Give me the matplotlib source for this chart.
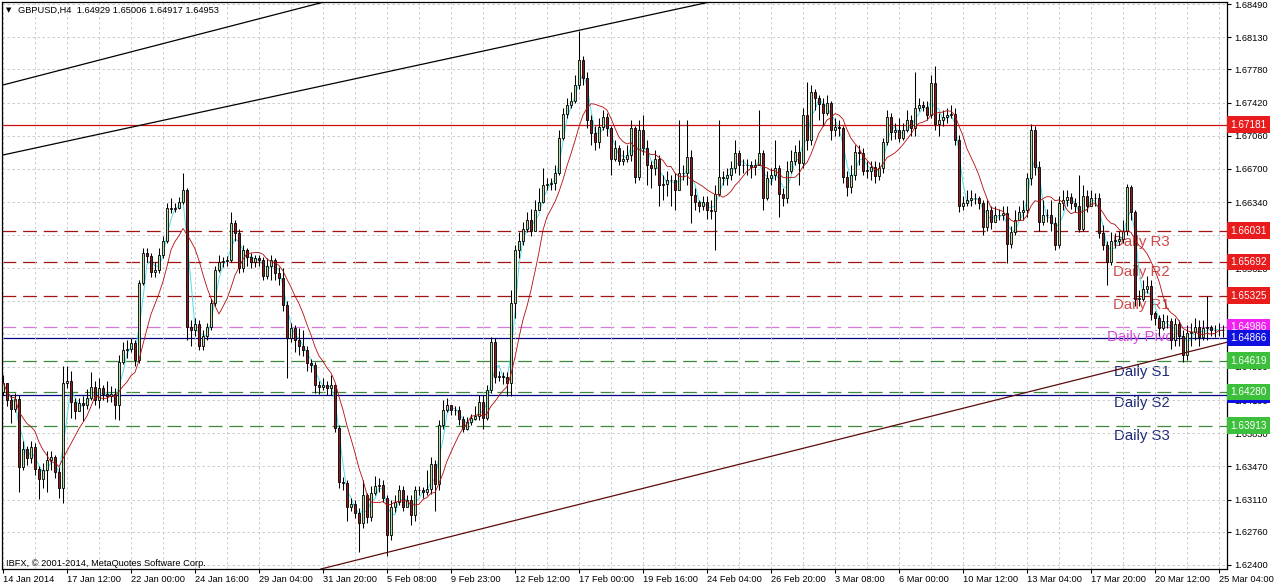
import numpy as np
import pandas as pd
import matplotlib
matplotlib.use("Agg")
import matplotlib.pyplot as plt

# GBPUSD H4 candles (one bar every 4 hours)
first_open = 1.6428
closes = [
    1.6438, 1.6419, 1.6409, 1.6420, 1.6346, 1.6366, 1.6356, 1.6368, 1.6344, 1.6333,
    1.6343, 1.6354, 1.6357, 1.6341, 1.6323, 1.6438, 1.6440, 1.6417, 1.6407, 1.6416,
    1.6414, 1.6421, 1.6433, 1.6419, 1.6432, 1.6426, 1.6423, 1.6426, 1.6414, 1.6460,
    1.6473, 1.6475, 1.6481, 1.6463, 1.6546, 1.6579, 1.6575, 1.6558, 1.6560, 1.6576,
    1.6592, 1.6627, 1.6626, 1.6628, 1.6634, 1.6647, 1.6498, 1.6495, 1.6502, 1.6478,
    1.6489, 1.6498, 1.6524, 1.6560, 1.6569, 1.6570, 1.6571, 1.6611, 1.6600, 1.6562,
    1.6582, 1.6574, 1.6569, 1.6573, 1.6571, 1.6554, 1.6565, 1.6571, 1.6557, 1.6552,
    1.6522, 1.6486, 1.6497, 1.6484, 1.6478, 1.6473, 1.6459, 1.6457, 1.6435, 1.6433,
    1.6435, 1.6432, 1.6435, 1.6389, 1.6330, 1.6329, 1.6303, 1.6306, 1.6296, 1.6285,
    1.6316, 1.6292, 1.6318, 1.6326, 1.6327, 1.6313, 1.6272, 1.6303, 1.6308, 1.6321,
    1.6303, 1.6310, 1.6294, 1.6321, 1.6321, 1.6319, 1.6322, 1.6350, 1.6328, 1.6392,
    1.6408, 1.6414, 1.6408, 1.6408, 1.6399, 1.6388, 1.6395, 1.6399, 1.6402, 1.6417,
    1.6400, 1.6430, 1.6482, 1.6444, 1.6445, 1.6444, 1.6438, 1.6524, 1.6582, 1.6592,
    1.6605, 1.6614, 1.6603, 1.6625, 1.6634, 1.6653, 1.6654, 1.6655, 1.6666, 1.6704,
    1.6730, 1.6739, 1.6744, 1.6761, 1.6788, 1.6769, 1.6723, 1.6709, 1.6699, 1.6715,
    1.6726, 1.6714, 1.6681, 1.6693, 1.6679, 1.6681, 1.6685, 1.6714, 1.6661, 1.6712,
    1.6693, 1.6674, 1.6671, 1.6681, 1.6652, 1.6654, 1.6658, 1.6658, 1.6647, 1.6665,
    1.6665, 1.6683, 1.6642, 1.6634, 1.6630, 1.6634, 1.6625, 1.6624, 1.6643, 1.6661,
    1.6660, 1.6663, 1.6671, 1.6687, 1.6674, 1.6674, 1.6674, 1.6672, 1.6674, 1.6687,
    1.6638, 1.6660, 1.6663, 1.6671, 1.6643, 1.6638, 1.6668, 1.6679, 1.6688, 1.6676,
    1.6728, 1.6701, 1.6753, 1.6747, 1.6741, 1.6731, 1.6742, 1.6712, 1.6715, 1.6714,
    1.6661, 1.6650, 1.6663, 1.6688, 1.6687, 1.6668, 1.6668, 1.6672, 1.6662, 1.6671,
    1.6699, 1.6726, 1.6710, 1.6712, 1.6704, 1.6712, 1.6723, 1.6714, 1.6736, 1.6739,
    1.6737, 1.6728, 1.6763, 1.6719, 1.6723, 1.6726, 1.6728, 1.6730, 1.6701, 1.6630,
    1.6633, 1.6636, 1.6638, 1.6638, 1.6633, 1.6607, 1.6625, 1.6612, 1.6620, 1.6620,
    1.6622, 1.6589, 1.6601, 1.6615, 1.6623, 1.6625, 1.6660, 1.6712, 1.6672, 1.6612,
    1.6620, 1.6620, 1.6611, 1.6587, 1.6633, 1.6636, 1.6639, 1.6633, 1.6630, 1.6605,
    1.6641, 1.6630, 1.6638, 1.6638, 1.6600, 1.6587, 1.6569, 1.6592, 1.6592, 1.6594,
    1.6603, 1.6650, 1.6623, 1.6529, 1.6529, 1.6540, 1.6543, 1.6513, 1.6508, 1.6497,
    1.6505, 1.6505, 1.6484, 1.6502, 1.6489, 1.6468, 1.6492, 1.6493, 1.6498, 1.6487,
    1.6497, 1.6498, 1.6495, 1.6495, 1.6495, 1.6495,
]
highs = [
    1.6446, 1.6435, 1.6424, 1.6427, 1.6424, 1.6375, 1.6369, 1.6375, 1.6372, 1.6347,
    1.6351, 1.6364, 1.6364, 1.6359, 1.6346, 1.6456, 1.6456, 1.6451, 1.6421, 1.6421,
    1.6423, 1.6431, 1.6449, 1.6440, 1.6443, 1.6435, 1.6440, 1.6434, 1.6432, 1.6468,
    1.6482, 1.6484, 1.6486, 1.6484, 1.6549, 1.6584, 1.6584, 1.6579, 1.6569, 1.6584,
    1.6597, 1.6633, 1.6638, 1.6633, 1.6640, 1.6665, 1.6649, 1.6506, 1.6508, 1.6506,
    1.6495, 1.6503, 1.6529, 1.6565, 1.6576, 1.6574, 1.6575, 1.6623, 1.6614, 1.6605,
    1.6587, 1.6584, 1.6579, 1.6577, 1.6577, 1.6574, 1.6573, 1.6576, 1.6573, 1.6564,
    1.6562, 1.6527, 1.6503, 1.6500, 1.6497, 1.6495, 1.6478, 1.6464, 1.6460, 1.6440,
    1.6443, 1.6440, 1.6446, 1.6437, 1.6392, 1.6336, 1.6332, 1.6313, 1.6310, 1.6302,
    1.6332, 1.6318, 1.6326, 1.6337, 1.6334, 1.6332, 1.6316, 1.6310, 1.6316, 1.6327,
    1.6326, 1.6316, 1.6316, 1.6326, 1.6326, 1.6325, 1.6343, 1.6357, 1.6354, 1.6397,
    1.6419, 1.6421, 1.6414, 1.6413, 1.6413, 1.6402, 1.6401, 1.6404, 1.6413, 1.6424,
    1.6424, 1.6435, 1.6488, 1.6486, 1.6451, 1.6449, 1.6449, 1.6538, 1.6587, 1.6601,
    1.6612, 1.6623, 1.6627, 1.6636, 1.6649, 1.6671, 1.6660, 1.6660, 1.6674, 1.6712,
    1.6736, 1.6747, 1.6753, 1.6772, 1.6820, 1.6793, 1.6775, 1.6728, 1.6717, 1.6725,
    1.6734, 1.6731, 1.6717, 1.6701, 1.6696, 1.6690, 1.6696, 1.6723, 1.6717, 1.6723,
    1.6728, 1.6701, 1.6679, 1.6690, 1.6685, 1.6663, 1.6668, 1.6663, 1.6665, 1.6723,
    1.6674, 1.6723, 1.6690, 1.6649, 1.6636, 1.6641, 1.6641, 1.6636, 1.6652, 1.6723,
    1.6668, 1.6671, 1.6679, 1.6701, 1.6690, 1.6681, 1.6681, 1.6679, 1.6681, 1.6734,
    1.6690, 1.6668, 1.6671, 1.6701, 1.6674, 1.6649, 1.6679, 1.6690, 1.6696, 1.6701,
    1.6736, 1.6764, 1.6761, 1.6757, 1.6750, 1.6747, 1.6750, 1.6744, 1.6725, 1.6723,
    1.6717, 1.6668, 1.6674, 1.6696, 1.6696, 1.6693, 1.6679, 1.6679, 1.6679, 1.6677,
    1.6704, 1.6734, 1.6731, 1.6720, 1.6725, 1.6720, 1.6734, 1.6728, 1.6775, 1.6747,
    1.6744, 1.6744, 1.6772, 1.6782, 1.6731, 1.6734, 1.6736, 1.6739, 1.6736, 1.6707,
    1.6641, 1.6647, 1.6647, 1.6644, 1.6641, 1.6636, 1.6636, 1.6630, 1.6630, 1.6627,
    1.6630, 1.6630, 1.6608, 1.6625, 1.6630, 1.6636, 1.6666, 1.6719, 1.6717, 1.6679,
    1.6636, 1.6627, 1.6636, 1.6618, 1.6641, 1.6647, 1.6647, 1.6644, 1.6638, 1.6663,
    1.6652, 1.6647, 1.6647, 1.6644, 1.6644, 1.6609, 1.6592, 1.6601, 1.6600, 1.6603,
    1.6614, 1.6654, 1.6652, 1.6625, 1.6538, 1.6549, 1.6554, 1.6549, 1.6516, 1.6511,
    1.6513, 1.6511, 1.6508, 1.6508, 1.6506, 1.6495, 1.6500, 1.6503, 1.6508, 1.6506,
    1.6506, 1.6532, 1.6500, 1.6500, 1.6503, 1.6500,
]
lows = [
    1.6424, 1.6413, 1.6394, 1.6406, 1.6319, 1.6343, 1.6348, 1.6351, 1.6338, 1.6312,
    1.6324, 1.6319, 1.6343, 1.6334, 1.6313, 1.6307, 1.6432, 1.6400, 1.6399, 1.6408,
    1.6396, 1.6409, 1.6419, 1.6414, 1.6410, 1.6419, 1.6417, 1.6417, 1.6399, 1.6397,
    1.6458, 1.6465, 1.6471, 1.6456, 1.6459, 1.6544, 1.6569, 1.6553, 1.6553, 1.6557,
    1.6573, 1.6590, 1.6622, 1.6623, 1.6627, 1.6632, 1.6484, 1.6478, 1.6489, 1.6473,
    1.6473, 1.6484, 1.6495, 1.6521, 1.6558, 1.6564, 1.6565, 1.6569, 1.6592, 1.6557,
    1.6558, 1.6565, 1.6562, 1.6564, 1.6565, 1.6549, 1.6551, 1.6549, 1.6549, 1.6544,
    1.6516, 1.6443, 1.6482, 1.6471, 1.6468, 1.6467, 1.6451, 1.6449, 1.6427, 1.6426,
    1.6430, 1.6424, 1.6424, 1.6384, 1.6323, 1.6321, 1.6288, 1.6299, 1.6291, 1.6254,
    1.6280, 1.6286, 1.6288, 1.6316, 1.6319, 1.6308, 1.6250, 1.6267, 1.6297, 1.6305,
    1.6299, 1.6303, 1.6283, 1.6288, 1.6316, 1.6313, 1.6316, 1.6317, 1.6299, 1.6321,
    1.6388, 1.6406, 1.6403, 1.6403, 1.6392, 1.6384, 1.6386, 1.6392, 1.6397, 1.6397,
    1.6388, 1.6397, 1.6427, 1.6438, 1.6440, 1.6437, 1.6423, 1.6423, 1.6508, 1.6573,
    1.6587, 1.6601, 1.6597, 1.6603, 1.6625, 1.6633, 1.6647, 1.6647, 1.6647, 1.6663,
    1.6701, 1.6725, 1.6736, 1.6742, 1.6757, 1.6761, 1.6714, 1.6696, 1.6690, 1.6693,
    1.6712, 1.6706, 1.6663, 1.6679, 1.6674, 1.6674, 1.6677, 1.6679, 1.6655, 1.6658,
    1.6685, 1.6653, 1.6649, 1.6663, 1.6630, 1.6636, 1.6641, 1.6630, 1.6625, 1.6647,
    1.6658, 1.6653, 1.6611, 1.6625, 1.6623, 1.6625, 1.6616, 1.6616, 1.6582, 1.6641,
    1.6652, 1.6652, 1.6658, 1.6666, 1.6663, 1.6666, 1.6663, 1.6660, 1.6663, 1.6674,
    1.6625, 1.6636, 1.6652, 1.6658, 1.6618, 1.6630, 1.6633, 1.6666, 1.6674, 1.6652,
    1.6671, 1.6690, 1.6696, 1.6734, 1.6723, 1.6717, 1.6728, 1.6701, 1.6706, 1.6706,
    1.6655, 1.6641, 1.6644, 1.6658, 1.6674, 1.6663, 1.6660, 1.6658, 1.6655, 1.6658,
    1.6666, 1.6696, 1.6701, 1.6703, 1.6699, 1.6701, 1.6710, 1.6706, 1.6706, 1.6733,
    1.6733, 1.6723, 1.6725, 1.6712, 1.6706, 1.6717, 1.6720, 1.6725, 1.6696, 1.6623,
    1.6625, 1.6630, 1.6630, 1.6632, 1.6627, 1.6598, 1.6603, 1.6605, 1.6612, 1.6614,
    1.6614, 1.6568, 1.6584, 1.6598, 1.6614, 1.6614, 1.6618, 1.6652, 1.6663, 1.6603,
    1.6609, 1.6612, 1.6603, 1.6582, 1.6584, 1.6625, 1.6630, 1.6627, 1.6623, 1.6601,
    1.6603, 1.6623, 1.6630, 1.6630, 1.6595, 1.6582, 1.6544, 1.6566, 1.6584, 1.6587,
    1.6590, 1.6598, 1.6614, 1.6521, 1.6521, 1.6527, 1.6535, 1.6506, 1.6500, 1.6489,
    1.6495, 1.6497, 1.6475, 1.6478, 1.6478, 1.6460, 1.6462, 1.6478, 1.6484, 1.6478,
    1.6484, 1.6484, 1.6489, 1.6488, 1.6489, 1.6487,
]

date_labels = ["14 Jan 2014", "17 Jan 12:00", "22 Jan 00:00", "24 Jan 16:00",
               "29 Jan 04:00", "31 Jan 20:00", "5 Feb 08:00", "9 Feb 23:00",
               "12 Feb 12:00", "17 Feb 00:00", "19 Feb 16:00", "24 Feb 04:00",
               "26 Feb 20:00", "3 Mar 08:00", "6 Mar 00:00", "10 Mar 12:00",
               "13 Mar 04:00", "17 Mar 20:00", "20 Mar 12:00", "25 Mar 04:00"]
price_ticks = [1.68490, 1.68130, 1.67780, 1.67420, 1.67060, 1.66700, 1.66340,
               1.65980, 1.65620, 1.65270, 1.64910, 1.64550, 1.64190, 1.63830,
               1.63470, 1.63110, 1.62760, 1.62400]

# horizontal levels: value, line colour, line style, price-box colour
levels = [1.67181, 1.66031, 1.65692, 1.65325, 1.64986, 1.64866, 1.64245, 1.64619, 1.64280, 1.63913]
level_colors = ["#d01010", "#a01414", "#a01414", "#a01414", "#d878d8", "#000080",
                "#000080", "#3d8a3d", "#3d8a3d", "#3d8a3d"]
level_styles = ["-", "--", "--", "--", "--", "-", "-", "--", "--", "--"]
box_colors = ["#e81c1c", "#e81c1c", "#e81c1c", "#e81c1c", "#f020f0", "#1010e0",
              "#1010e0", "#3cc03c", "#3cc03c", "#3cc03c"]

pivot_names = ["Daily R3", "Daily R2", "Daily R1", "Daily Pivot", "Daily S1", "Daily S2", "Daily S3"]
pivot_text_y = [1.6591, 1.6558, 1.6522, 1.6487, 1.6450, 1.6416, 1.6380]
pivot_text_x = [277.5, 277.5, 277.5, 276.0, 277.8, 277.8, 277.8]
pivot_colors = ["#d04848", "#d04848", "#d04848", "#dd44dd", "#1e2a78", "#1e2a78", "#1e2a78"]

# trend lines as (bar, price) anchor pairs
trend_a = [(0, 1.67611), (79.25, 1.68501)]
trend_b = [(0, 1.66851), (175.5, 1.68501)]
trend_c = [(80.5, 1.62367), (306.25, 1.64821)]

FONT = "Liberation Sans"

fig = plt.figure(figsize=(12.76, 5.87), dpi=100)
fig.patch.set_facecolor("white")
ax = fig.add_axes([2 / 1276, 1 - 569 / 587, 1225 / 1276, 567 / 587])

c = np.array(closes)
o = np.array([first_open] + closes[:-1])
h = np.maximum(np.array(highs), np.maximum(o, c))
l = np.minimum(np.array(lows), np.minimum(o, c))
x = np.arange(len(c))

ax.set_xlim(-0.25, 306.0)
ax.set_ylim(1.62356, 1.68512)

# grid
ax.set_xticks(np.arange(0, len(c), 16))
ax.set_xticks(np.arange(0, len(c), 8), minor=True)
ax.set_yticks(price_ticks)
ax.grid(True, which="both", axis="x", color="#c4c4c4", lw=0.6, ls=(0, (3, 3)), zorder=0)
ax.grid(True, which="major", axis="y", color="#c4c4c4", lw=0.6, ls=(0, (3, 3)), zorder=0)

# level lines
for val, col, st in zip(levels, level_colors, level_styles):
    if st == "--":
        ax.axhline(val, color=col, lw=0.9, dashes=(11, 5.5), zorder=1)
    else:
        ax.axhline(val, color=col, lw=0.9, zorder=1)

# pivot texts sit behind the candles
for name, tx, ty, col in zip(pivot_names, pivot_text_x, pivot_text_y, pivot_colors):
    ax.text(tx, ty, name, color=col, fontsize=10.8, family=FONT, va="center", ha="left", zorder=1.5)

# fast and slow moving averages
s = pd.Series(c)
fast = s.rolling(3, min_periods=1).mean()
slow = s.rolling(9, min_periods=1).mean()
ax.plot(x, fast, color="#50e0e8", lw=0.7, zorder=2)

# candles
ax.vlines(x, l, h, color="black", lw=0.75, zorder=3)
up = c >= o
body_lo = np.minimum(o, c)
body_h = np.maximum(np.abs(c - o), 0.00003)
ax.bar(x[up], body_h[up], bottom=body_lo[up], width=0.68, color="#b6dfa6",
       edgecolor="black", linewidth=0.6, zorder=4)
ax.bar(x[~up], body_h[~up], bottom=body_lo[~up], width=0.68, color="#8e1c1c",
       edgecolor="black", linewidth=0.6, zorder=4)

ax.plot(x, slow, color="#b40a0a", lw=0.6, zorder=5)

# trend lines
ax.axline(trend_a[0], trend_a[1], color="black", lw=0.9, zorder=5)
ax.axline(trend_b[0], trend_b[1], color="black", lw=0.9, zorder=5)
ax.axline(trend_c[0], trend_c[1], color="#5a0c0c", lw=0.9, zorder=5)

# axes styling
for sp in ax.spines.values():
    sp.set_color("black")
    sp.set_linewidth(0.9)
ax.yaxis.tick_right()
ax.set_yticklabels([f"{p:.5f}" for p in price_ticks], family=FONT, fontsize=6.7)
ax.set_xticklabels(date_labels, family=FONT, fontsize=6.7, ha="left")
ax.tick_params(axis="y", which="major", length=3, pad=2, direction="out")
ax.tick_params(axis="x", which="major", length=3, pad=1, direction="out")
ax.tick_params(axis="x", which="minor", length=0)

# price boxes on the right scale
for val, bc in zip(levels, box_colors):
    ax.text(1.0025, val, f"{val:.5f}", transform=ax.get_yaxis_transform(),
            color="white", fontsize=7.2, family=FONT, va="center", ha="left",
            bbox=dict(boxstyle="square,pad=0.32", fc=bc, ec="none"), zorder=10)

# header and copyright
fig.text(6 / 1276, 1 - 10 / 587, "\u25bc", fontsize=5, va="center", ha="left")
fig.text(18 / 1276, 1 - 10 / 587, "GBPUSD,H4  1.64929 1.65006 1.64917 1.64953",
         fontsize=6.7, family=FONT, va="center", ha="left")
fig.text(6 / 1276, 1 - 563 / 587, "IBFX, \u00a9 2001-2014, MetaQuotes Software Corp.",
         fontsize=6.7, family=FONT, va="center", ha="left")

fig.savefig("out.png", dpi=100, facecolor="white")
